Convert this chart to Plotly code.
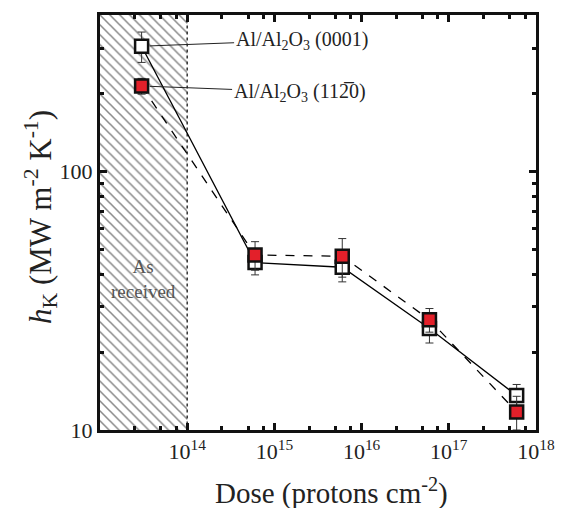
import math
import plotly.graph_objects as go

# ---- data ----
dose = [3e13, 6e14, 6e15, 6e16, 6e17]
hk_0001 = [305, 44.4, 42.6, 24.7, 13.6]
err_0001 = [41, 4.6, 5.2, 3.0, 1.4]
hk_1120 = [214, 47.5, 47.0, 26.7, 11.75]
err_1120 = [15, 6.0, 8.0, 2.8, 1.75]
label_0001 = "Al/Al<sub>2</sub>O<sub>3</sub> (0001)"
label_1120 = "Al/Al<sub>2</sub>O<sub>3</sub> (112\u03050)"
x_title = "Dose (protons cm<sup>-2</sup>)"
y_title = "<i>h</i><sub>K</sub> (MW m<sup>-2</sup> K<sup>-1</sup>)"
as_received_x = [1e13, 1e14]
x_ticks = [1e14, 1e15, 1e16, 1e17, 1e18]
x_ticktext = ["10<sup>14</sup>", "10<sup>15</sup>", "10<sup>16</sup>", "10<sup>17</sup>", "10<sup>18</sup>"]
y_ticks = [10, 100]
y_ticktext = ["10", "100"]
x_minor = [m * 10 ** e for e in range(13, 18) for m in (2.5, 5, 7.5)]
y_minor = [m * 10 ** e for e in (1, 2) for m in range(2, 10)]

FONT = "Liberation Serif"
RED = "#e3202a"

fig = go.Figure()

# hatched "as received" region
fig.add_trace(go.Scatter(
    x=[as_received_x[0], as_received_x[1], as_received_x[1], as_received_x[0], as_received_x[0]],
    y=[1, 1, 10000, 10000, 1],
    fill="toself", mode="lines", line=dict(width=0),
    fillcolor="rgba(0,0,0,0)",
    fillpattern=dict(shape="\\", fgcolor="#111", bgcolor="white", size=7, solidity=0.22),
    hoverinfo="skip", showlegend=False))
fig.add_trace(go.Scatter(
    x=[as_received_x[1], as_received_x[1]], y=[1, 10000], mode="lines",
    line=dict(color="#333", width=1.5, dash="dot"), showlegend=False, hoverinfo="skip"))

# series
fig.add_trace(go.Scatter(
    x=dose, y=hk_0001, mode="lines+markers", name="(0001)",
    line=dict(color="black", width=1.3),
    marker=dict(symbol="square", size=13, color="white", line=dict(color="#111", width=2.5)),
    error_y=dict(type="data", array=err_0001, visible=True, color="#333", thickness=1, width=4),
    showlegend=False))
fig.add_trace(go.Scatter(
    x=dose, y=hk_1120, mode="lines+markers", name="(11-20)",
    line=dict(color="black", width=1.3, dash="dash"),
    marker=dict(symbol="square", size=13, color=RED, line=dict(color="#111", width=2.5)),
    error_y=dict(type="data", array=err_1120, visible=True, color="#333", thickness=1, width=4),
    showlegend=False))

annotations = [
    dict(x=math.log10(dose[0]), y=math.log10(hk_0001[0]), xref="x", yref="y",
         text=label_0001, showarrow=True, ax=160, ay=-6, arrowhead=0, arrowwidth=1,
         arrowcolor="#222", standoff=8, font=dict(family=FONT, size=20, color="#222")),
    dict(x=math.log10(dose[0]), y=math.log10(hk_1120[0]), xref="x", yref="y",
         text=label_1120, showarrow=True, ax=158, ay=6, arrowhead=0, arrowwidth=1,
         arrowcolor="#222", standoff=8, font=dict(family=FONT, size=20, color="#222")),
    dict(x=13.5, y=math.log10(38.5), xref="x", yref="y", text="As<br>received",
         showarrow=False, font=dict(family=FONT, size=19, color="#555")),
    dict(x=0.532, y=-0.148, xref="paper", yref="paper", text=x_title, showarrow=False,
         xanchor="center", yanchor="middle", font=dict(family=FONT, size=29, color="#222")),
    dict(x=-0.137, y=0.514, xref="paper", yref="paper", text=y_title, showarrow=False,
         textangle=-90, xanchor="center", yanchor="middle", font=dict(family=FONT, size=31, color="#222")),
]

fig.update_layout(
    width=567, height=508,
    margin=dict(l=100, r=29, t=12, b=78),
    paper_bgcolor="white", plot_bgcolor="white",
    font=dict(family=FONT, size=20, color="#222"),
    annotations=annotations,
    showlegend=False,
)
fig.update_xaxes(
    type="log", range=[13.0, 18.0],
    tickmode="array", tickvals=x_ticks, ticktext=x_ticktext,
    ticks="inside", ticklen=7, tickwidth=3, tickcolor="#111",
    showline=True, linewidth=3, linecolor="#111", mirror="allticks",
    showgrid=False, zeroline=False,
    minor=dict(tickmode="array", tickvals=x_minor, ticks="inside", ticklen=4, tickwidth=3, tickcolor="#111", showgrid=False),
    tickfont=dict(family=FONT, size=22, color="#222"),
)
fig.update_yaxes(
    type="log", range=[1.0, 2.605],
    tickmode="array", tickvals=y_ticks, ticktext=y_ticktext,
    ticks="inside", ticklen=7, tickwidth=3, tickcolor="#111",
    showline=True, linewidth=3, linecolor="#111", mirror="allticks",
    showgrid=False, zeroline=False,
    minor=dict(tickmode="array", tickvals=y_minor, ticks="inside", ticklen=4, tickwidth=3, tickcolor="#111", showgrid=False),
    tickfont=dict(family=FONT, size=22, color="#222"),
)

fig.write_html("out.html")
